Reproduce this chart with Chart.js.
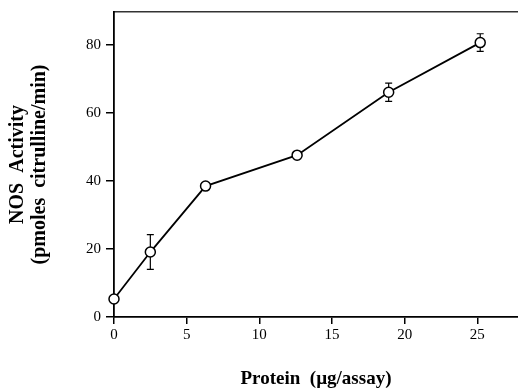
<!DOCTYPE html>
<html>
<head>
<meta charset="utf-8">
<script src="https://cdn.jsdelivr.net/npm/chart.js@4"></script>
<style>
  html, body { margin: 0; padding: 0; background: #fff; }
  #wrap { width: 518px; height: 389px; }
</style>
</head>
<body>
<div id="wrap"><canvas id="chart" width="518" height="389"></canvas></div>
<script>
// values
const protein = [0, 2.5, 6.3, 12.6, 18.9, 25.2];
const activity = [5.3, 19.1, 38.5, 47.6, 66.1, 80.7];
const errors = [0, 5.1, 0, 0, 2.7, 2.6];
const xTicks = [0, 5, 10, 15, 20, 25];
const yTicks = [0, 20, 40, 60, 80];

const SERIF = "'Liberation Serif', 'DejaVu Serif', serif";

// error bars, drawn under the points so the open circles cover them
const errorBars = {
  id: 'errorBars',
  beforeDatasetsDraw(chart) {
    const ctx = chart.ctx;
    const xs = chart.scales.x;
    const ys = chart.scales.y;
    ctx.save();
    ctx.strokeStyle = '#000';
    ctx.lineWidth = 1.2;
    protein.forEach((p, i) => {
      if (!errors[i]) return;
      const x = xs.getPixelForValue(p);
      const top = ys.getPixelForValue(activity[i] + errors[i]);
      const bot = ys.getPixelForValue(activity[i] - errors[i]);
      ctx.beginPath();
      ctx.moveTo(x, top); ctx.lineTo(x, bot);
      ctx.moveTo(x - 3.5, top); ctx.lineTo(x + 3.5, top);
      ctx.moveTo(x - 3.5, bot); ctx.lineTo(x + 3.5, bot);
      ctx.stroke();
    });
    ctx.restore();
  }
};

const whiteBg = {
  id: 'whiteBg',
  beforeDraw(chart) {
    const ctx = chart.ctx;
    ctx.save();
    ctx.fillStyle = '#fff';
    ctx.fillRect(0, 0, chart.width, chart.height);
    ctx.restore();
  }
};

new Chart(document.getElementById('chart'), {
  type: 'line',
  data: {
    datasets: [{
      data: protein.map((p, i) => ({ x: p, y: activity[i] })),
      borderColor: '#000',
      borderWidth: 1.8,
      pointRadius: 5,
      pointBorderWidth: 1.5,
      pointBorderColor: '#000',
      pointBackgroundColor: '#fff',
      tension: 0,
      clip: false
    }]
  },
  options: {
    responsive: false,
    animation: false,
    layout: { padding: 0, autoPadding: false },
    plugins: { legend: { display: false }, tooltip: { enabled: false } },
    scales: {
      x: {
        type: 'linear',
        position: 'bottom',
        min: 0,
        max: 27.8,
        afterBuildTicks: s => { s.ticks = xTicks.map(v => ({ value: v })); },
        afterFit: s => { s.height = 72; s.paddingLeft = 0; s.paddingRight = 0; },
        grid: { display: true, drawOnChartArea: false, tickLength: 7, tickColor: '#000', lineWidth: 1.5 },
        border: { display: true, color: '#000', width: 1.8 },
        ticks: { color: '#000', padding: 2, maxRotation: 0, font: { family: SERIF, size: 15 } },
        title: {
          display: true,
          text: 'Protein  (\u00b5g/assay)',
          color: '#000',
          font: { family: SERIF, size: 19, weight: 'bold', lineHeight: 1 },
          padding: { top: 0, bottom: 0 }
        }
      },
      xTop: {
        type: 'linear',
        position: 'top',
        min: 0,
        max: 1,
        afterFit: s => { s.height = 12; s.paddingLeft = 0; s.paddingRight = 0; },
        grid: { display: false },
        border: { display: true, color: '#333', width: 1.5 },
        ticks: { display: false }
      },
      y: {
        type: 'linear',
        min: 0,
        max: 89.7,
        afterBuildTicks: s => { s.ticks = yTicks.map(v => ({ value: v })); },
        afterFit: s => { s.width = 114; s.paddingTop = 0; s.paddingBottom = 0; },
        grid: { display: true, drawOnChartArea: false, tickLength: 8, tickColor: '#000', lineWidth: 1.5 },
        border: { display: true, color: '#000', width: 1.8 },
        ticks: { color: '#000', padding: 5, font: { family: SERIF, size: 15 } },
        title: {
          display: true,
          text: ['NOS  Activity', '(pmoles  citrulline/min)'],
          color: '#000',
          font: { family: SERIF, size: 20, weight: 'bold', lineHeight: 1.1 },
          padding: { top: 7, bottom: 0 }
        }
      }
    }
  },
  plugins: [whiteBg, errorBars]
});
</script>
</body>
</html>
